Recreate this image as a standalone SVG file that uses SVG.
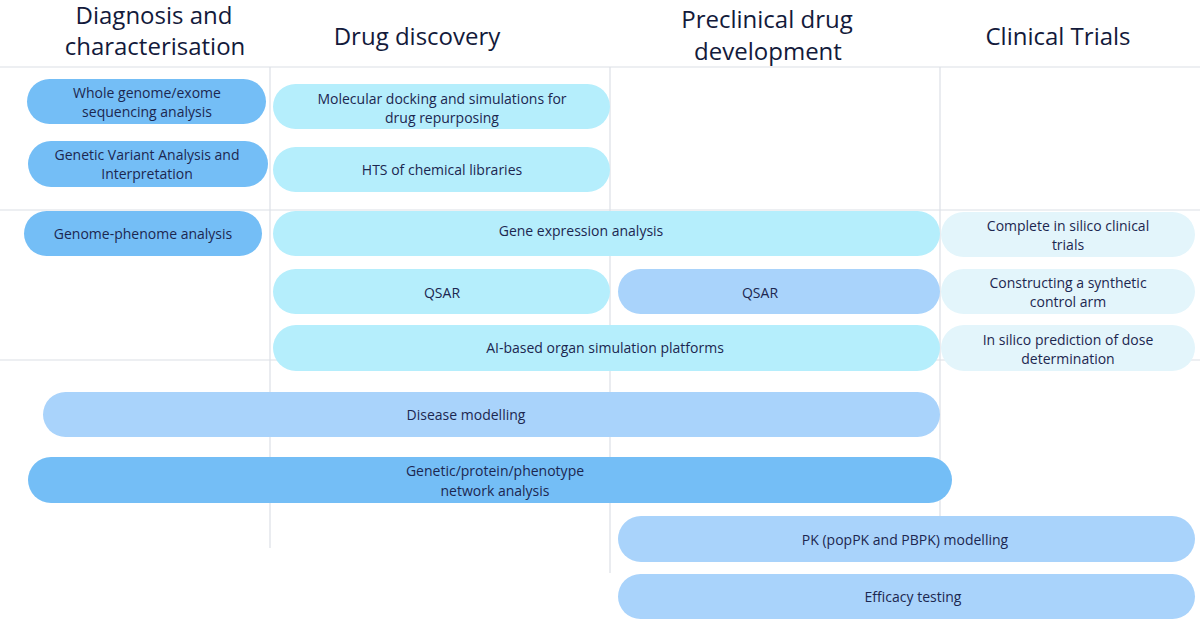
<svg xmlns="http://www.w3.org/2000/svg" width="1200" height="621" viewBox="0 0 1200 621">
<style>
.t{font-family:"Open Sans","Noto Sans","Liberation Sans",sans-serif;fill:#131a3b;text-anchor:middle;font-weight:500}
.h{font-size:24px}
.p{font-size:14px;fill:#1c2750}
.g{stroke:#dcdfe6;stroke-width:1.2;fill:none}
.b{fill:#74bef6}
.c{fill:#b5eefc}
.l{fill:#a9d3fb}
.v{fill:#e3f5fb}
</style>
<rect width="1200" height="621" fill="#ffffff"/>
<g id="grid">
<line class="g" x1="0" y1="67" x2="1200" y2="67"/>
<line class="g" x1="0" y1="210" x2="1200" y2="210"/>
<line class="g" x1="0" y1="360" x2="1200" y2="360"/>
<line class="g" x1="270" y1="67" x2="270" y2="548"/>
<line class="g" x1="610" y1="67" x2="610" y2="573"/>
<line class="g" x1="940" y1="67" x2="940" y2="517"/>
</g>
<g id="headers">
<text class="t h" x="154" y="24">Diagnosis and</text>
<text class="t h" x="155" y="55">characterisation</text>
<text class="t h" x="417" y="45">Drug discovery</text>
<text class="t h" x="767" y="28">Preclinical drug</text>
<text class="t h" x="768" y="60">development</text>
<text class="t h" x="1058" y="45">Clinical Trials</text>
</g>
<g id="n1"><rect class="b" x="27" y="79" width="239" height="45" rx="22.5"/><text class="t p" x="147" y="98">Whole genome/exome</text><text class="t p" x="147" y="117">sequencing analysis</text></g>
<g id="n2"><rect class="b" x="28" y="141" width="240" height="46" rx="23"/><text class="t p" x="147" y="160">Genetic Variant Analysis and</text><text class="t p" x="147" y="179">Interpretation</text></g>
<g id="n3"><rect class="b" x="24" y="211" width="238" height="45" rx="22.5"/><text class="t p" x="143" y="239">Genome-phenome analysis</text></g>
<g id="n4"><rect class="c" x="273" y="84" width="337" height="45" rx="22.5"/><text class="t p" x="442" y="104">Molecular docking and simulations for</text><text class="t p" x="442" y="123">drug repurposing</text></g>
<g id="n5"><rect class="c" x="273" y="147" width="337" height="45" rx="22.5"/><text class="t p" x="442" y="175">HTS of chemical libraries</text></g>
<g id="n6"><rect class="c" x="273" y="211" width="667" height="45" rx="22.5"/><text class="t p" x="581" y="236">Gene expression analysis</text></g>
<g id="n7"><rect class="c" x="273" y="269" width="337" height="45" rx="22.5"/><text class="t p" x="442" y="298">QSAR</text></g>
<g id="n8"><rect class="l" x="618" y="269" width="322" height="45" rx="22.5"/><text class="t p" x="760" y="298">QSAR</text></g>
<g id="n9"><rect class="c" x="273" y="325" width="667" height="46" rx="23"/><text class="t p" x="605" y="353">AI-based organ simulation platforms</text></g>
<g id="n10"><rect class="v" x="941" y="212" width="254" height="45" rx="22.5"/><text class="t p" x="1068" y="231">Complete in silico clinical</text><text class="t p" x="1068" y="250">trials</text></g>
<g id="n11"><rect class="v" x="941" y="269" width="254" height="45" rx="22.5"/><text class="t p" x="1068" y="288">Constructing a synthetic</text><text class="t p" x="1068" y="307">control arm</text></g>
<g id="n12"><rect class="v" x="941" y="325" width="254" height="46" rx="23"/><text class="t p" x="1068" y="345">In silico prediction of dose</text><text class="t p" x="1068" y="364">determination</text></g>
<g id="n13"><rect class="l" x="43" y="392" width="897" height="45" rx="22.5"/><text class="t p" x="466" y="420">Disease modelling</text></g>
<g id="n14"><rect class="b" x="28" y="457" width="924" height="46" rx="23"/><text class="t p" x="495" y="476">Genetic/protein/phenotype</text><text class="t p" x="495" y="496">network analysis</text></g>
<g id="n15"><rect class="l" x="618" y="516" width="577" height="46" rx="23"/><text class="t p" x="905" y="545">PK (popPK and PBPK) modelling</text></g>
<g id="n16"><rect class="l" x="618" y="574" width="577" height="45" rx="22.5"/><text class="t p" x="913" y="602">Efficacy testing</text></g>
<g id="connectors"></g>
</svg>
